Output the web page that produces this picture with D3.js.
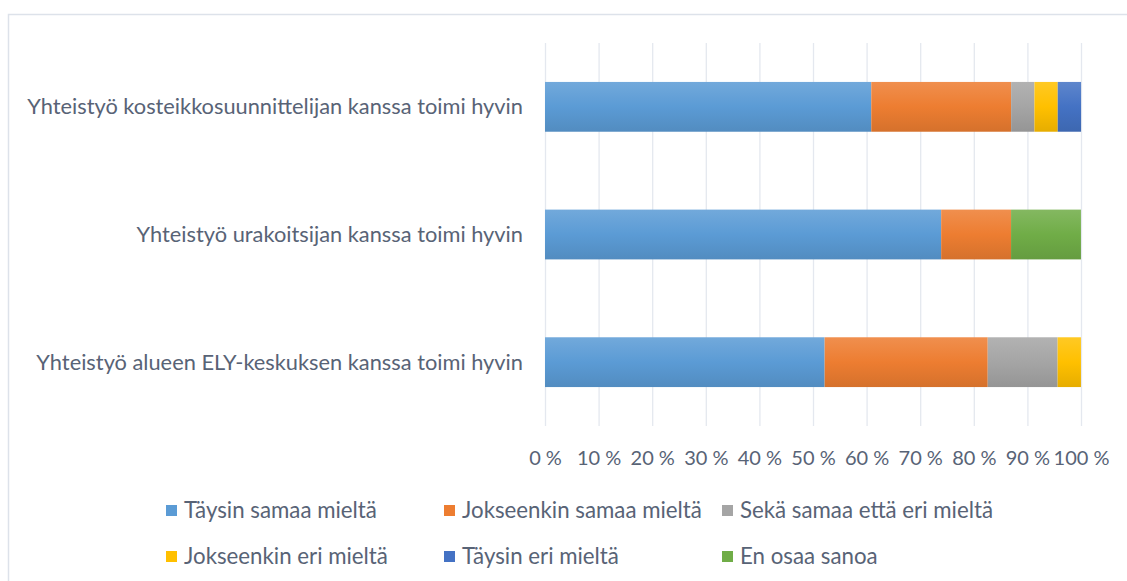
<!DOCTYPE html>
<html><head><meta charset="utf-8">
<script src="https://cdn.jsdelivr.net/npm/d3@7"></script>
<style>
html,body{margin:0;padding:0;background:#fff;}
svg text{font-family:Lato,"Open Sans",sans-serif;}
</style></head>
<body><svg id="c" width="1127" height="581"></svg>
<script>
const categories = [
  "Yhteistyö kosteikkosuunnittelijan kanssa toimi hyvin",
  "Yhteistyö urakoitsijan kanssa toimi hyvin",
  "Yhteistyö alueen ELY-keskuksen kanssa toimi hyvin"
];
const seriesNames = ["Täysin samaa mieltä","Jokseenkin samaa mieltä","Sekä samaa että eri mieltä","Jokseenkin eri mieltä","Täysin eri mieltä","En osaa sanoa"];
const taysinSamaa     = [60.87, 73.91, 52.17];
const jokseenkinSamaa = [26.09, 13.04, 30.43];
const sekaSamaaEri    = [4.35, 0, 13.04];
const jokseenkinEri   = [4.35, 0, 4.35];
const taysinEri       = [4.35, 0, 0];
const enOsaa          = [0, 13.04, 0];
const tickValues = [0,10,20,30,40,50,60,70,80,90,100];
const colors = ["#5B9BD5","#ED7D31","#A5A5A5","#FFC000","#4472C4","#70AD47"];

const seriesValues = [taysinSamaa, jokseenkinSamaa, sekaSamaaEri, jokseenkinEri, taysinEri, enOsaa];
const rows = categories.map((c,i)=>{const o={cat:c}; seriesNames.forEach((s,j)=>o[s]=seriesValues[j][i]); return o;});
const stack = d3.stack().keys(seriesNames)(rows);

const svg = d3.select("#c");
const textColor = "#586376";

// size a font so that a sample text reaches a given width
function fitSize(sample, width){
  const t = svg.append("text").style("font-size","20px").text(sample);
  const w = t.node().getComputedTextLength();
  t.remove();
  return 20*width/w;
}
const catSize = fitSize(categories[0], 496);
const tickSize = fitSize("100\u00a0%", 56);
const legSize = fitSize(seriesNames[0], 193);

// chart border
svg.append("rect").attr("x",8.5).attr("y",14.5).attr("width",1130).attr("height",580)
  .attr("fill","none").attr("stroke","#dde2ea").attr("stroke-width",1.5);

// gradients
const defs = svg.append("defs");
colors.forEach((c,i)=>{
  const g = defs.append("linearGradient").attr("id","g"+i).attr("x1",0).attr("y1",0).attr("x2",0).attr("y2",1);
  g.append("stop").attr("offset","0%").attr("stop-color",d3.interpolateRgb(c,"#fff")(0.14));
  g.append("stop").attr("offset","50%").attr("stop-color",c);
  g.append("stop").attr("offset","100%").attr("stop-color",d3.interpolateRgb(c,"#000")(0.1));
});

const x = d3.scaleLinear().domain([0,100]).range([545,1081]);
const y = d3.scaleBand().domain(categories).range([43,426]).paddingInner(0.61).paddingOuter(0.305);

// gridlines
svg.append("g").selectAll("line").data(tickValues).join("line")
  .attr("x1",d=>x(d)+0.5).attr("x2",d=>x(d)+0.5).attr("y1",43).attr("y2",426)
  .attr("stroke","#e4e8ef").attr("stroke-width",1.3);

// bars
svg.append("g").selectAll("g").data(stack).join("g")
  .attr("fill",(d,i)=>`url(#g${i})`)
  .selectAll("rect").data(d=>d).join("rect")
  .attr("x",d=>x(d[0])).attr("width",d=>Math.max(0,x(d[1])-x(d[0])))
  .attr("y",d=>y(d.data.cat)).attr("height",y.bandwidth());

// category labels
svg.append("g").selectAll("text").data(categories).join("text")
  .attr("x",523).attr("y",d=>y(d)+y.bandwidth()/2).attr("dy","0.35em")
  .attr("text-anchor","end").attr("fill",textColor).style("font-size",catSize+"px").text(d=>d);

// x axis labels
const xAxis = d3.axisBottom(x).tickValues(tickValues).tickFormat(d=>d+"\u00a0%").tickSize(0).tickPadding(0);
const ax = svg.append("g").attr("transform","translate(0,465)").call(xAxis);
ax.select(".domain").remove();
ax.selectAll("text").attr("fill",textColor).style("font-size",tickSize+"px").attr("y",0).attr("dy",0);

// legend
const legendPos = [[166,510],[444,510],[722,510],[166,556],[444,556],[722,556]];
const lg = svg.append("g").selectAll("g").data(seriesNames).join("g")
  .attr("transform",(d,i)=>`translate(${legendPos[i][0]},${legendPos[i][1]})`);
lg.append("rect").attr("x",0).attr("y",-5).attr("width",11).attr("height",11).attr("fill",(d,i)=>colors[i]);
lg.append("text").attr("x",18).attr("dy","0.35em").attr("fill",textColor)
  .style("font-size",legSize+"px").text(d=>d);
</script></body></html>
